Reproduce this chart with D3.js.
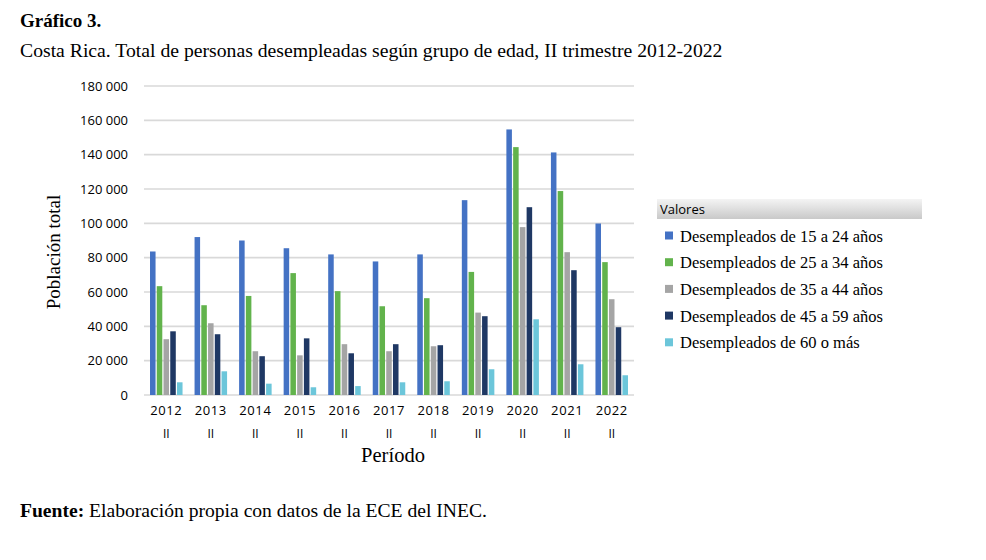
<!DOCTYPE html>
<html>
<head>
<meta charset="utf-8">
<script src="https://cdn.jsdelivr.net/npm/d3@7"></script>
<style>
  body { margin: 0; background: #fff; }
  svg { display: block; }
</style>
</head>
<body>
<div id="chart"></div>
<script>
// data (II trimestre of each year)
const periods = ["2012", "2013", "2014", "2015", "2016", "2017", "2018", "2019", "2020", "2021", "2022"]
const seriesNames = ["Desempleados de 15 a 24 años", "Desempleados de 25 a 34 años",
                     "Desempleados de 35 a 44 años", "Desempleados de 45 a 59 años",
                     "Desempleados de 60 o más"]
const age15to24 = [83600, 92000, 90000, 85500, 81900, 77800, 81900, 113500, 154700, 141300, 99900]
const age25to34 = [63400, 52300, 57700, 71000, 60500, 51700, 56400, 71700, 144400, 118800, 77400]
const age35to44 = [32500, 41800, 25500, 23100, 29600, 25500, 28400, 48000, 97800, 83200, 55800]
const age45to59 = [37100, 35400, 22600, 33000, 24300, 29600, 29000, 45900, 109400, 72700, 39500]
const age60plus = [7400, 13800, 6600, 4500, 5200, 7400, 8000, 15000, 44100, 17900, 11500]
const yTicks = [0, 20000, 40000, 60000, 80000, 100000, 120000, 140000, 160000, 180000]
const colors = ["#4472c4", "#62b34c", "#a5a5a5", "#1f3864", "#6cc6da"]

const allSeries = [age15to24, age25to34, age35to44, age45to59, age60plus]

const W = 986, H = 560
let margin = {top: 86, left: 144, right: 352, bottom: 165}
let width = W - margin.left - margin.right,
    height = H - margin.top - margin.bottom

let svg = d3.select("#chart").append("svg")
            .attr("width", W).attr("height", H)

const serif = "'Liberation Serif', 'Times New Roman', serif"
const sans = "'Open Sans', 'DejaVu Sans', sans-serif"

// titles
svg.append("text").attr("x", 20).attr("y", 27)
   .style("font-family", serif).style("font-size", "19px").style("font-weight", "bold")
   .text("Gráfico 3.")
svg.append("text").attr("x", 20).attr("y", 57)
   .style("font-family", serif).style("font-size", "19.7px")
   .text("Costa Rica. Total de personas desempleadas según grupo de edad, II trimestre 2012-2022")

let g = svg.append("g").attr("transform", "translate(" + margin.left + "," + margin.top + ")")

let x = d3.scaleBand().domain(periods).range([0, width]).paddingInner(0.27).paddingOuter(0.135)
let xs = d3.scaleBand().domain(d3.range(seriesNames.length)).range([0, x.bandwidth()]).paddingInner(0.18)
let y = d3.scaleLinear().domain([0, 180000]).range([height, 0])

// gridlines
g.append("g").selectAll("line").data(yTicks).join("line")
 .attr("x1", 0).attr("x2", width)
 .attr("y1", d => y(d)).attr("y2", d => y(d))
 .attr("stroke", "#d9d9d9").attr("stroke-width", 1.6)

// y axis labels
let yAxis = g.append("g")
  .call(d3.axisLeft(y).tickValues(yTicks).tickSize(0).tickPadding(16)
          .tickFormat(d => d3.format(",")(d).replace(/,/g, " ")))
yAxis.select(".domain").remove()
yAxis.selectAll("text").style("font-family", sans).style("font-size", "13px").attr("fill", "#000")

// bars
let groups = g.append("g").selectAll("g").data(allSeries).join("g")
              .attr("fill", (d, i) => colors[i])
groups.each(function(vals, si) {
  d3.select(this).selectAll("rect").data(vals).join("rect")
    .attr("x", (d, i) => x(periods[i]) + xs(si))
    .attr("width", xs.bandwidth())
    .attr("y", d => y(d))
    .attr("height", d => height - y(d))
})

// x axis labels
let xAxis = g.append("g").attr("transform", "translate(0," + height + ")")
  .call(d3.axisBottom(x).tickSize(0).tickPadding(11))
xAxis.select(".domain").remove()
xAxis.selectAll("text").style("font-family", sans).style("font-size", "13px").attr("fill", "#000")
  .style("letter-spacing", "0.6px")
xAxis.selectAll(".tick").append("text")
  .attr("y", 43).attr("fill", "#000")
  .style("font-family", sans).style("font-size", "12px")
  .text("II")

// axis titles
svg.append("text")
   .attr("transform", "translate(60," + 252 + ") rotate(-90)")
   .attr("text-anchor", "middle")
   .style("font-family", serif).style("font-size", "19px")
   .text("Población total")
svg.append("text").attr("x", 393).attr("y", 462).attr("text-anchor", "middle")
   .style("font-family", serif).style("font-size", "20.5px")
   .text("Período")

// legend
let defs = svg.append("defs")
let grad = defs.append("linearGradient").attr("id", "hdr").attr("x1", 0).attr("x2", 0).attr("y1", 0).attr("y2", 1)
grad.append("stop").attr("offset", "0%").attr("stop-color", "#f4f4f4")
grad.append("stop").attr("offset", "100%").attr("stop-color", "#c9c9c9")

let legend = svg.append("g").attr("transform", "translate(657,199)")
legend.append("rect").attr("width", 265).attr("height", 20).attr("fill", "url(#hdr)")
legend.append("text").attr("x", 3).attr("y", 15)
      .style("font-family", sans).style("font-size", "13px").text("Valores")

let items = legend.selectAll("g.item").data(seriesNames).join("g")
  .attr("class", "item")
  .attr("transform", (d, i) => "translate(0," + (37.5 + i * 26.7) + ")")
items.append("rect").attr("x", 8).attr("y", -5).attr("width", 8).attr("height", 8)
     .attr("fill", (d, i) => colors[i])
items.append("text").attr("x", 23).attr("y", 5)
     .style("font-family", serif).style("font-size", "16.5px").text(d => d)

// source
let src = svg.append("text").attr("x", 20).attr("y", 517)
   .style("font-family", serif).style("font-size", "19.6px")
src.append("tspan").style("font-weight", "bold").text("Fuente:")
src.append("tspan").text(" Elaboración propia con datos de la ECE del INEC.")
</script>
</body>
</html>
